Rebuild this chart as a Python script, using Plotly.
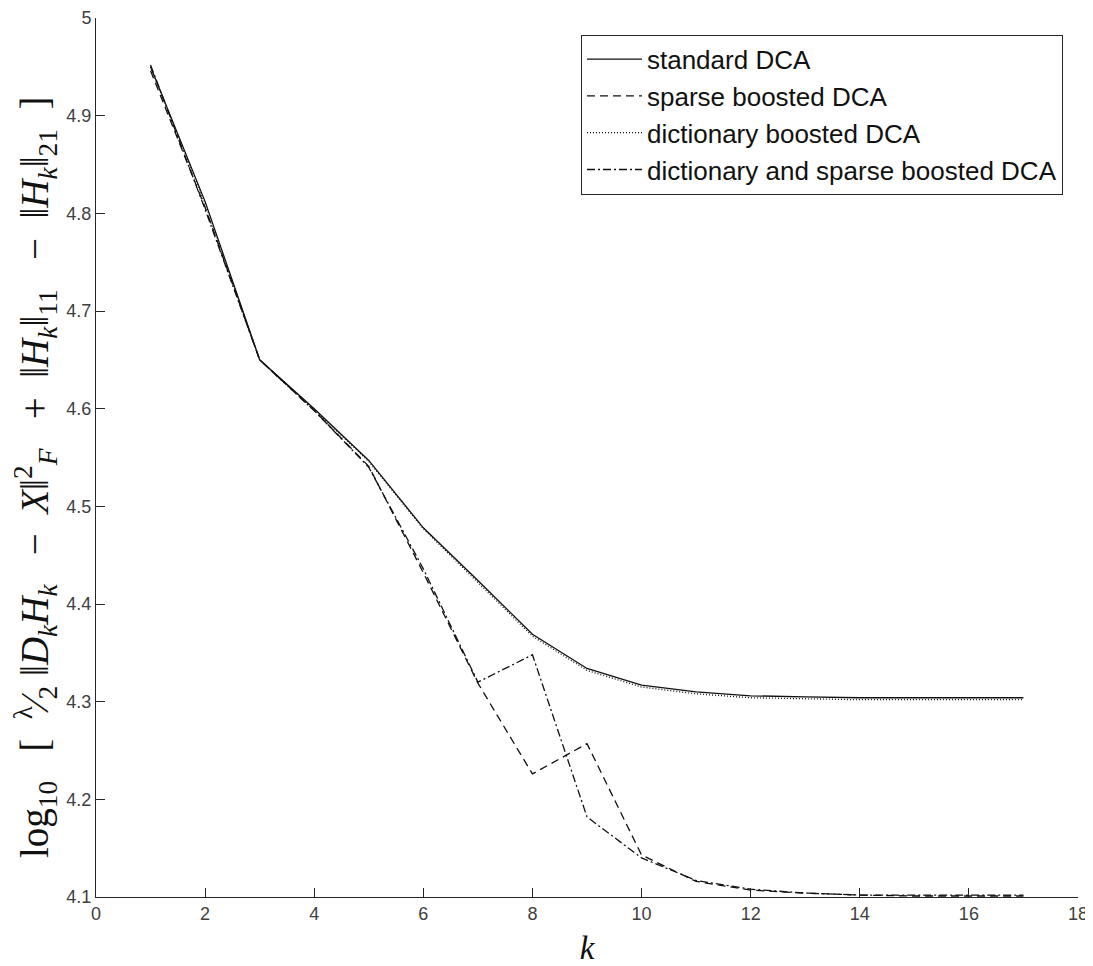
import plotly.graph_objects as go

k = list(range(1, 18))
standard_dca = [4.950, 4.812, 4.650, 4.600, 4.547, 4.478, 4.424, 4.369, 4.334, 4.317, 4.310, 4.306, 4.305, 4.304, 4.304, 4.304, 4.304]
sparse_boosted = [4.946, 4.806, 4.650, 4.598, 4.541, 4.432, 4.319, 4.226, 4.257, 4.143, 4.116, 4.107, 4.104, 4.102, 4.101, 4.101, 4.101]
dictionary_boosted = [4.950, 4.810, 4.650, 4.599, 4.546, 4.477, 4.422, 4.367, 4.332, 4.315, 4.308, 4.304, 4.303, 4.302, 4.302, 4.302, 4.302]
dict_sparse_boosted = [4.952, 4.804, 4.650, 4.598, 4.540, 4.436, 4.320, 4.348, 4.182, 4.140, 4.117, 4.108, 4.104, 4.102, 4.102, 4.102, 4.102]

names = ["standard DCA", "sparse boosted DCA", "dictionary boosted DCA",
         "dictionary and sparse boosted DCA"]
series = [standard_dca, sparse_boosted, dictionary_boosted, dict_sparse_boosted]
dashes = ["solid", "8px,5px", "1px,2px", "8px,3px,2px,3px"]

fig = go.Figure()
for name, ys, d in zip(names, series, dashes):
    fig.add_trace(go.Scatter(x=k, y=ys, mode="lines", name=name,
                             line=dict(color="#111111", width=1.3, dash=d)))

ylab = ("log<sub>10</sub>   [  <sup>λ</sup>⁄<sub>2</sub> ‖<i>D<sub>k</sub>H<sub>k</sub></i>   −  <i>X</i>‖"
        "<sup>2</sup><sub><i>F</i></sub>   +  ‖<i>H<sub>k</sub></i>‖<sub>11</sub>   −  ‖<i>H<sub>k</sub></i>‖<sub>21</sub>  ]")

axis_common = dict(showline=True, linecolor="#262626", linewidth=1, ticks="inside",
                   ticklen=9, tickcolor="#262626", showgrid=False, zeroline=False,
                   automargin=False,
                   tickfont=dict(family="Liberation Sans, Arial", size=18, color="#404040"))

fig.update_layout(
    width=1085, height=958,
    margin=dict(l=88, r=15, t=10, b=69),
    paper_bgcolor="white", plot_bgcolor="white",
    xaxis=dict(range=[0, 18], dtick=2, tick0=0,
               title=dict(text="<i>k</i>", font=dict(family="Liberation Serif, Times New Roman", size=33, color="#111"),
                          standoff=20),
               **axis_common),
    yaxis=dict(range=[4.1, 5.0], dtick=0.1, tick0=4.1, **axis_common),
    legend=dict(x=0.9847, xanchor="right", y=0.981, yanchor="top",
                bordercolor="#262626", borderwidth=1, bgcolor="white",
                font=dict(family="Liberation Sans, Arial", size=26, color="#111"),
                itemwidth=55, tracegroupgap=0),
    showlegend=True,
    annotations=[dict(text=ylab, xref="paper", yref="paper", x=-0.061, y=0.4767,
                      xanchor="center", yanchor="middle", textangle=-90, showarrow=False,
                      font=dict(family="Liberation Serif, Times New Roman", size=39, color="#111"))],
)

fig.write_html("out.html")
